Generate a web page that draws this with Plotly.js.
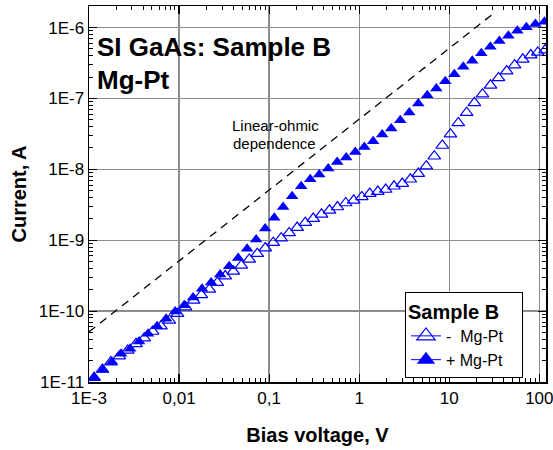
<!DOCTYPE html>
<html>
<head>
<meta charset="utf-8">
<script src="https://cdn.plot.ly/plotly-3.0.1.min.js"></script>
<style>html,body{margin:0;padding:0;background:#fff;}#chart{width:553px;height:450px;}</style>
</head>
<body>
<div id="chart"></div>
<script>
// Negative polarity ("-  Mg-Pt", open triangles)
var voltageNeg = [0.00114,0.00141,0.00175,0.00217,0.00269,0.00333,0.00411,0.00509,0.00630,0.00780,
  0.00962,0.0118,0.0145,0.0177,0.0217,0.0266,0.0326,0.0400,0.0491,0.0602,
  0.0739,0.0907,0.111,0.136,0.167,0.205,0.252,0.309,0.382,0.468,
  0.574,0.708,0.869,1.07,1.31,1.61,1.97,2.44,3.01,3.70,
  4.53,5.56,6.82,8.37,10.3,12.6,15.6,19.0,23.4,28.7,
  35.2,43.4,53.1,65.5,80.4,96.0,116];
var currentNeg = [1.15e-11,1.50e-11,1.91e-11,2.31e-11,2.79e-11,3.46e-11,4.16e-11,5.16e-11,6.14e-11,7.39e-11,
  9.19e-11,1.14e-10,1.42e-10,1.69e-10,2.02e-10,2.52e-10,3.12e-10,3.64e-10,4.42e-10,5.37e-10,
  6.47e-10,7.76e-10,9.25e-10,1.07e-9,1.27e-9,1.51e-9,1.77e-9,2.02e-9,2.32e-9,2.64e-9,
  2.94e-9,3.35e-9,3.66e-9,4.08e-9,4.55e-9,4.86e-9,5.19e-9,5.77e-9,6.30e-9,7.24e-9,
  8.72e-9,1.11e-8,1.53e-8,2.17e-8,3.13e-8,4.52e-8,6.30e-8,8.67e-8,1.15e-7,1.53e-7,
  1.95e-7,2.43e-7,2.95e-7,3.56e-7,4.09e-7,4.46e-7,4.81e-7];

// Positive polarity ("+ Mg-Pt", filled triangles)
var voltagePos = [0.00114,0.00143,0.00180,0.00227,0.00286,0.00360,0.00453,0.00570,0.00718,0.00904,
  0.0114,0.0143,0.0180,0.0227,0.0286,0.0360,0.0453,0.0570,0.0718,0.0904,
  0.114,0.143,0.180,0.227,0.286,0.360,0.453,0.570,0.718,0.904,
  1.14,1.43,1.80,2.27,2.86,3.60,4.53,5.70,7.18,9.04,
  11.4,14.3,18.0,22.7,28.6,36.0,45.3,57.0,71.8,90.4,114];
var currentPos = [1.17e-11,1.49e-11,1.91e-11,2.50e-11,2.94e-11,3.73e-11,4.80e-11,6.14e-11,7.82e-11,9.84e-11,
  1.21e-10,1.56e-10,2.07e-10,2.54e-10,3.28e-10,4.28e-10,5.61e-10,7.60e-10,1.02e-9,1.46e-9,
  2.07e-9,2.94e-9,4.17e-9,5.77e-9,7.24e-9,8.45e-9,1.03e-8,1.27e-8,1.47e-8,1.76e-8,
  2.07e-8,2.49e-8,3.10e-8,3.77e-8,4.94e-8,6.34e-8,8.49e-8,1.11e-7,1.38e-7,1.75e-7,
  2.20e-7,2.79e-7,3.40e-7,4.33e-7,5.36e-7,6.44e-7,7.66e-7,9.02e-7,1.01e-6,1.12e-6,1.21e-6];

// Linear-ohmic reference line (endpoints)
var ohmicVoltage = [0.001, 30];
var ohmicCurrent = [5.1e-11, 1.53e-6];

var xTickVals = [0.001, 0.01, 0.1, 1, 10, 100];
var xTickText = ["1E-3", "0,01", "0,1", "1", "10", "100"];
var yTickVals = [1e-11, 1e-10, 1e-9, 1e-8, 1e-7, 1e-6];
var yTickText = ["1E-11", "1E-10", "1E-9", "1E-8", "1E-7", "1E-6"];

var FONT = "Arial, 'Liberation Sans', sans-serif";
var BLUE = "#0000ff";
var PAD = "\u00a0\u00a0\u00a0";

var traces = [
  {x: ohmicVoltage, y: ohmicCurrent, mode: "lines", showlegend: false,
   line: {color: "#000", width: 1.3, dash: "8px,6px"}, hoverinfo: "skip"},
  {x: voltageNeg, y: currentNeg, mode: "markers", showlegend: false,
   marker: {symbol: "triangle-up-open", size: 11, color: BLUE, line: {color: BLUE, width: 1.2}}},
  {x: voltagePos, y: currentPos, mode: "markers", showlegend: false,
   marker: {symbol: "triangle-up", size: 11, color: BLUE, line: {width: 0}}},
  {x: [null], y: [null], mode: "lines+markers", name: "-\u00a0\u00a0Mg-Pt" + PAD,
   line: {color: BLUE, width: 1}, marker: {symbol: "triangle-up-open", size: 16, color: BLUE, line: {color: BLUE, width: 1.2}}},
  {x: [null], y: [null], mode: "lines+markers", name: "+ Mg-Pt" + PAD,
   line: {color: BLUE, width: 1}, marker: {symbol: "triangle-up", size: 16, color: BLUE}}
];

var axisCommon = {
  type: "log", showline: true, linecolor: "#000", linewidth: 1.5, mirror: "ticks",
  ticks: "inside", ticklen: 8, tickwidth: 1.2, tickcolor: "#000",
  showgrid: true, gridcolor: "#8c8c8c", gridwidth: 1.3, zeroline: false,
  tickfont: {family: FONT, size: 17, color: "#000"},
  minor: {ticks: "inside", ticklen: 4, tickwidth: 1, tickcolor: "#000", dtick: "D1", showgrid: false},
  tickmode: "array", ticklabeloverflow: "allow"
};

var layout = {
  width: 553, height: 450,
  margin: {l: 89, r: 7, t: 6, b: 68},
  paper_bgcolor: "#fff", plot_bgcolor: "#fff",
  font: {family: FONT, color: "#000"},
  xaxis: Object.assign({}, axisCommon, {
    range: [-3, 2.074], tickvals: xTickVals, ticktext: xTickText,
    title: {text: "<b>Bias voltage, V</b>", font: {family: FONT, size: 20, color: "#000"}, standoff: 21}
  }),
  yaxis: Object.assign({}, axisCommon, {
    range: [-11, -5.696], tickvals: yTickVals, ticktext: yTickText,
    title: {text: "<b>Current, A</b>", font: {family: FONT, size: 20, color: "#000"}, standoff: 6}
  }),
  legend: {
    x: 0.691, y: 0.24, xanchor: "left", yanchor: "top",
    bgcolor: "#fff", bordercolor: "#000", borderwidth: 1.2,
    font: {family: FONT, size: 16, color: "#000"},
    title: {text: "<b>Sample B</b>", font: {family: FONT, size: 20, color: "#000"}},
    itemsizing: "trace", tracegroupgap: 0
  },
  annotations: [
    {xref: "paper", yref: "paper", x: 0.0131, y: 0.891, xanchor: "left", yanchor: "middle",
     text: "<b>SI GaAs: Sample B</b>", showarrow: false, font: {family: FONT, size: 26, color: "#000"}},
    {xref: "paper", yref: "paper", x: 0.0131, y: 0.803, xanchor: "left", yanchor: "middle",
     text: "<b>Mg-Pt</b>", showarrow: false, font: {family: FONT, size: 26, color: "#000"}},
    {xref: "paper", yref: "paper", x: 0.409, y: 0.682, xanchor: "center", yanchor: "middle",
     text: "Linear-ohmic", showarrow: false, font: {family: FONT, size: 15, color: "#000"}},
    {xref: "paper", yref: "paper", x: 0.407, y: 0.634, xanchor: "center", yanchor: "middle",
     text: "dependence", showarrow: false, font: {family: FONT, size: 15, color: "#000"}}
  ]
};

Plotly.newPlot("chart", traces, layout, {displayModeBar: false, staticPlot: true});
</script>
</body>
</html>
